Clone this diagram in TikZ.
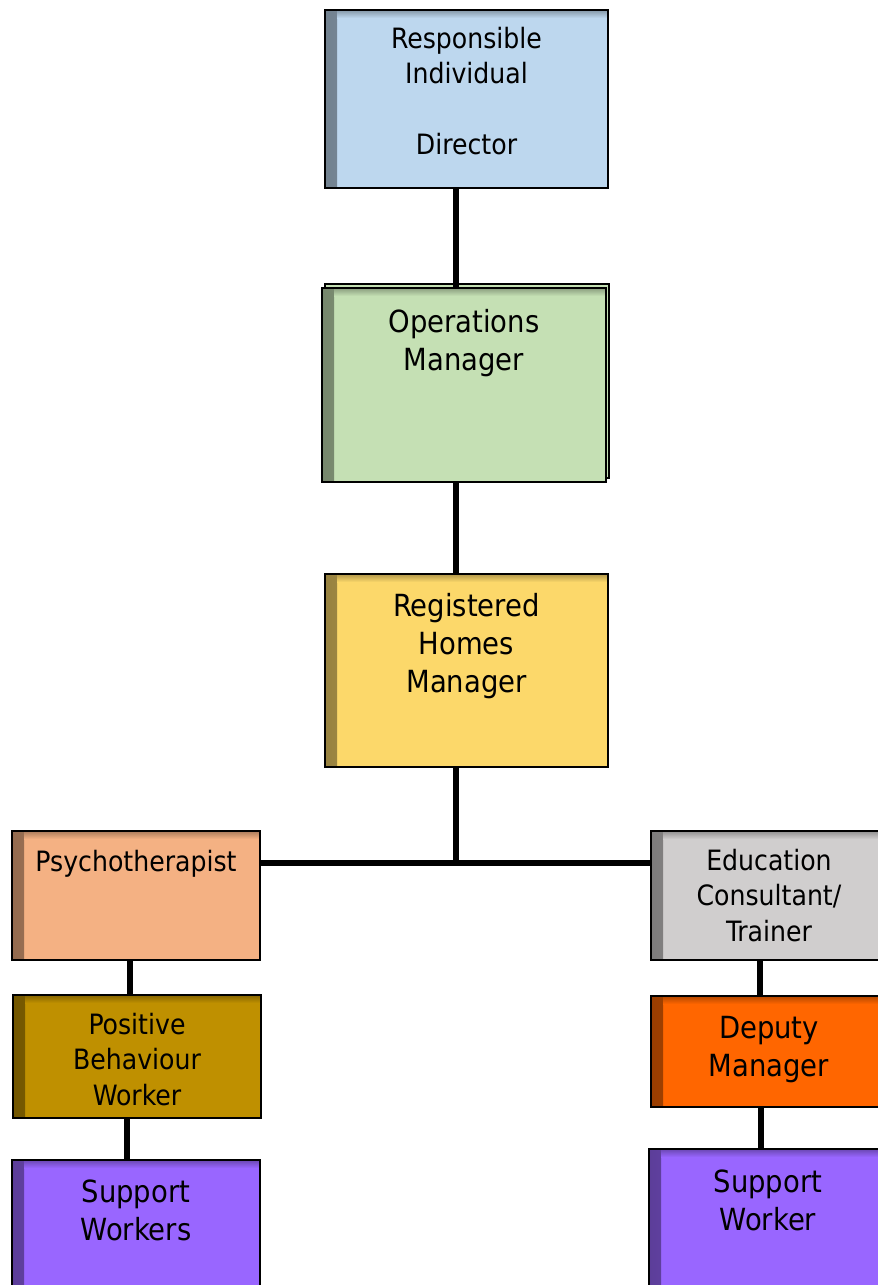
\documentclass[tikz,border=0pt]{standalone}
\usepackage{fontspec}
\setmainfont{DejaVu Sans Condensed}
\usepackage{tikz}
\usetikzlibrary{positioning}
\usetikzlibrary{shadows}

\definecolor{ridblue}{RGB}{189,215,238}
\definecolor{opsgreen}{RGB}{197,224,180}
\definecolor{regyellow}{RGB}{252,216,106}
\definecolor{psyorange}{RGB}{244,177,131}
\definecolor{edugrey}{RGB}{208,206,206}
\definecolor{pbwgold}{RGB}{191,144,0}
\definecolor{depred}{RGB}{255,102,0}
\definecolor{swpurple}{RGB}{153,102,255}

\tikzset{
  orgbox/.style={draw=black, line width=2pt, inner sep=0pt, fill=#1,
    path picture={
      \shade[left color=#1!60!black, right color=#1]
        (path picture bounding box.north west) rectangle ([xshift=12pt]path picture bounding box.south west);
      \shade[top color=#1!70!black, bottom color=#1]
        ([xshift=12pt]path picture bounding box.north west) rectangle ([yshift=-8pt]path picture bounding box.north east);
    }},
  link/.style={line width=6pt}
}

\begin{document}
\begin{tikzpicture}[x=1pt,y=-1pt]
        \useasboundingbox (0,0) rectangle (878,1285);
        \clip (0,0) rectangle (878,1285);
        % boxes
        \node[orgbox=ridblue, minimum width=283pt, minimum height=178pt] (rid) at (466.5,99) {};
        \node[orgbox=opsgreen, minimum width=284pt, minimum height=194pt,
            copy shadow={shadow xshift=3pt, shadow yshift=4pt, fill=opsgreen, draw=black, line width=2pt}] (ops) at (464,385) {};
        \node[orgbox=regyellow, minimum width=283pt, minimum height=193pt] (reg) at (466.5,670.5) {};
        \node[orgbox=psyorange, minimum width=248pt, minimum height=129pt] (psy) at (136,895.5) {};
        \node[orgbox=edugrey, minimum width=236pt, minimum height=129pt] (edu) at (769,895.5) {};
        \node[orgbox=pbwgold, minimum width=248pt, minimum height=123pt] (pbw) at (137,1056.5) {};
        \node[orgbox=depred, minimum width=236pt, minimum height=111pt] (dep) at (769,1051.5) {};
        \node[orgbox=swpurple, minimum width=248pt, minimum height=140pt] (swl) at (136,1230) {};
        \node[orgbox=swpurple, minimum width=238pt, minimum height=151pt] (swr) at (768,1224.5) {};
        % labels
        \begin{scope}[every node/.style={align=center, inner sep=0pt, font=\fontsize{28}{35.5}\selectfont}]
            \node[below=18pt of rid.north] (ridlbl) {Responsible\\Individual\\\mbox{}\\Director};
            \node[below=20pt of psy.north] (psylbl) {Psychotherapist};
            \node[below=19pt of edu.north] (edulbl) {Education\\Consultant/\\Trainer};
            \node[below=19pt of pbw.north] (pbwlbl) {Positive\\Behaviour\\Worker};
        \end{scope}
        \begin{scope}[every node/.style={align=center, inner sep=0pt, font=\fontsize{30.5}{38}\selectfont}]
            \node[below=22pt of ops.north] (opslbl) {Operations\\Manager};
            \node[below=20pt of reg.north] (reglbl) {Registered\\Homes\\Manager};
            \node[below=21pt of dep.north] (deplbl) {Deputy\\Manager};
            \node[below=21pt of swl.north] (swllbl) {Support\\Workers};
            \node[below=22pt of swr.north] (swrlbl) {Support\\Worker};
        \end{scope}
        % connectors
        \draw[link] ([xshift=-10.5pt]rid.south) -- ([xshift=-10.5pt]rid.south |- ops.north);
        \draw[link] ([xshift=-8pt]ops.south) -- ([xshift=-8pt]ops.south |- reg.north);
        \draw[link] ([xshift=-10.5pt]reg.south) -- ++(0,95) coordinate (fork);
        \draw[link] (psy.east |- fork) -- (edu.west |- fork);
        \draw[link] ([xshift=-6pt]psy.south) -- ([xshift=-6pt]psy.south |- pbw.north);
        \draw[link] ([xshift=-10pt]pbw.south) -- ([xshift=-10pt]pbw.south |- swl.north);
        \draw[link] ([xshift=-9pt]edu.south) -- ([xshift=-9pt]edu.south |- dep.north);
        \draw[link] ([xshift=-8pt]dep.south) -- ([xshift=-8pt]dep.south |- swr.north);
\end{tikzpicture}
\end{document}
